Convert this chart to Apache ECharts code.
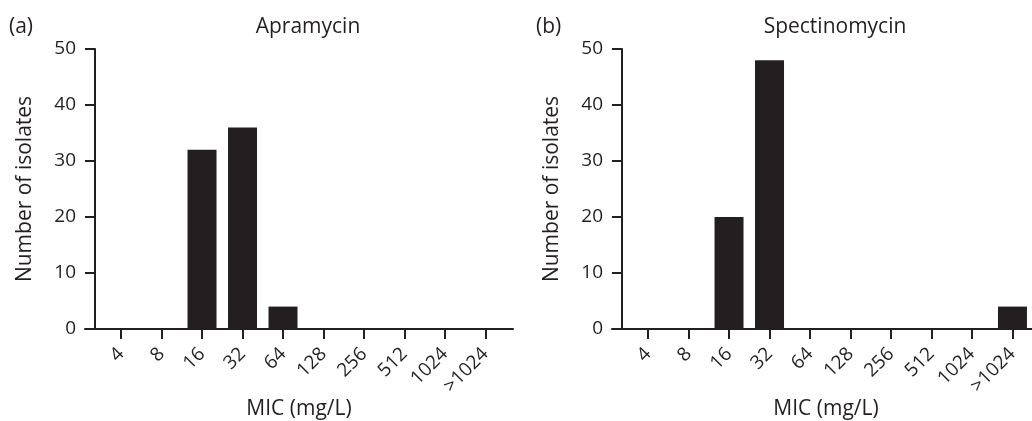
<!DOCTYPE html>
<html>
<head>
<meta charset="utf-8">
<script src="https://cdn.jsdelivr.net/npm/echarts@6/dist/echarts.min.js"></script>
<style>
  html, body { margin: 0; padding: 0; background: #fff; }
  #main { width: 1032px; height: 421px; }
</style>
</head>
<body>
<div id="main"></div>
<script>
// MIC categories (mg/L)
const categorias = ['4', '8', '16', '32', '64', '128', '256', '512', '1024', '>1024'];
const apramicina = [0, 0, 32, 36, 4, 0, 0, 0, 0, 0];
const espectinomicina = [0, 0, 20, 48, 0, 0, 0, 0, 0, 4];
const titulos = ['Apramycin', 'Spectinomycin'];
const etiquetas = ['(a)', '(b)'];

const color = '#231f20';
const fuente = '"Open Sans", "Noto Sans", sans-serif';
const indices = categorias.map((c, i) => i);

let chart = echarts.init(document.getElementById('main'));

function ejeX(grid) {
    return {
        gridIndex: grid,
        type: 'value',
        min: -0.89,
        max: 9.68,
        name: 'MIC (mg/L)',
        nameLocation: 'middle',
        nameGap: 70,
        nameMoveOverlap: false,
        nameTextStyle: {color: color, fontSize: 21, fontFamily: fuente},
        axisLine: {show: true, onZero: false, lineStyle: {color: color, width: 2}},
        axisTick: {show: true, length: 10, customValues: indices, lineStyle: {color: color, width: 2}},
        axisLabel: {
            customValues: indices,
            rotate: 45,
            margin: 22,
            color: color,
            fontSize: 19,
            fontFamily: fuente,
            formatter: v => categorias[v]
        },
        splitLine: {show: false}
    };
}

function ejeY(grid) {
    return {
        gridIndex: grid,
        type: 'value',
        min: 0,
        max: 50,
        interval: 10,
        offset: -10,
        name: 'Number of isolates',
        nameLocation: 'middle',
        nameGap: 59,
        nameMoveOverlap: false,
        nameTextStyle: {color: color, fontSize: 21, fontFamily: fuente},
        axisLine: {show: true, onZero: false, lineStyle: {color: color, width: 2}},
        axisTick: {show: true, length: 10, lineStyle: {color: color, width: 2}},
        axisLabel: {margin: 19, color: color, fontSize: 19, fontFamily: fuente},
        splitLine: {show: false}
    };
}

function serie(datos, grid) {
    return {
        type: 'bar',
        xAxisIndex: grid,
        yAxisIndex: grid,
        barWidth: 29,
        itemStyle: {color: color},
        data: datos.map((v, i) => [i, v])
    };
}

const estiloTitulo = {color: color, fontSize: 21, fontWeight: 'normal', fontFamily: fuente};

const option = {
    animation: false,
    title: [
        {text: titulos[0], left: 303, top: 12, textAlign: 'center', textStyle: estiloTitulo},
        {text: titulos[1], left: 830, top: 12, textAlign: 'center', textStyle: estiloTitulo},
        {text: etiquetas[0], left: 4, top: 12, textStyle: estiloTitulo},
        {text: etiquetas[1], left: 531, top: 12, textStyle: estiloTitulo}
    ],
    grid: [
        {left: 85, top: 49, width: 428, height: 280, outerBoundsMode: 'none', containLabel: false},
        {left: 612, top: 49, width: 428, height: 280, outerBoundsMode: 'none', containLabel: false}
    ],
    xAxis: [ejeX(0), ejeX(1)],
    yAxis: [ejeY(0), ejeY(1)],
    series: [serie(apramicina, 0), serie(espectinomicina, 1)]
};

chart.setOption(option);
</script>
</body>
</html>
